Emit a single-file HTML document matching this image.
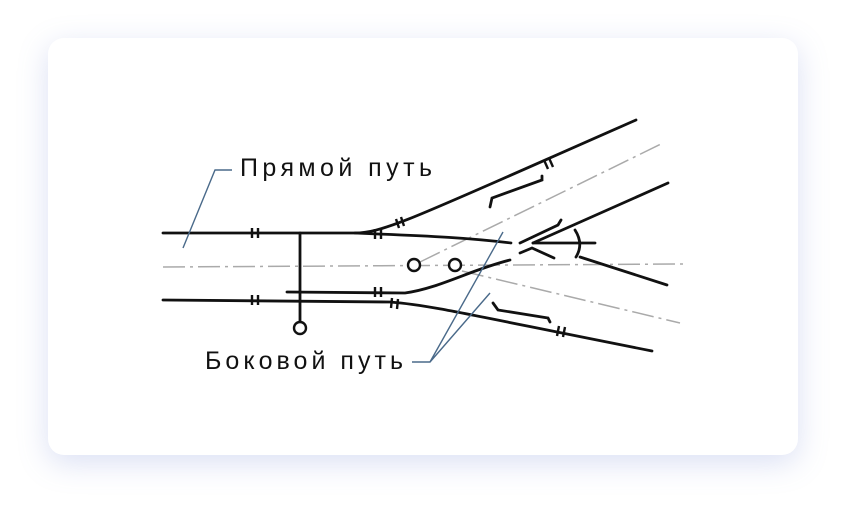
<!DOCTYPE html>
<html><head><meta charset="utf-8"><style>
html,body{margin:0;padding:0;background:#fff;}
body{width:847px;height:514px;position:relative;overflow:hidden;font-family:"Liberation Sans",sans-serif;}
.card{position:absolute;left:48px;top:38px;width:750px;height:417px;background:#fff;border-radius:16px;box-shadow:0 8px 30px rgba(110,130,210,0.25);}
svg{position:absolute;left:0;top:0;}
</style></head><body>
<div class="card"></div>
<svg width="847" height="514" viewBox="0 0 847 514">
<g stroke="#aaa" stroke-width="1.5" fill="none" stroke-dasharray="22 5 3 5">
<path d="M163 267 L683 264"/>
<path d="M420 262 L663 143"/>
<path d="M462 271 L680 323"/>
</g>
<g stroke="#111" stroke-width="2.8" fill="none" stroke-linecap="round">
<path d="M163 233 L355 233 C385 233 420 215 636 120"/>
<path d="M355 233 L378 234 C430 236 470 238 511 243"/>
<path d="M163 300 L390 302 C430 305 470 315 652 351"/>
<path d="M287 292 L405 293 C440 288 470 270 510 260"/>
<path d="M533 243 L668 183"/>
<path d="M533 243 L595 243"/>
<path d="M580 257 L667 285"/>
<path d="M520 243 L558 225 L561 220"/>
<path d="M520 253 L532 248 L554 258"/>
<path d="M575 230 Q584 244 576 257"/>
<path d="M300 233 L300 322"/>
<path d="M542 176 L542 180 L492 198 L490 207"/>
<path d="M493 303 L498 310 L548 318 L550 322"/>
</g>
<g stroke="#111" stroke-width="2.4" fill="#fff">
<circle cx="300" cy="328" r="6"/>
<circle cx="414" cy="265" r="6"/>
<circle cx="455" cy="265" r="6"/>
</g>
<g stroke="#111" stroke-width="2.4">
<path d="M252 228v10M258 228v10M252 295v10M258 295v10M375 229v10M381 229v10M375 287v10M381 287v10"/>
<path d="M396 219l3 9M401 217l3 9M544 160l4 9M549 158l4 9M392 298l-1 10M398 299l-1 10M559 326l-2 10M565 327l-2 10"/>
</g>
<g stroke="#4a6a8a" stroke-width="1.4" fill="none">
<path d="M183 248 L215 170 L232 170"/>
<path d="M412 362 L430 362 L503 232 M430 362 L490 293"/>
</g>
<text x="240" y="176" font-size="25" fill="#111" textLength="192" lengthAdjust="spacing">Прямой путь</text>
<text x="205" y="369" font-size="25" fill="#111" textLength="198" lengthAdjust="spacing">Боковой путь</text>
</svg>
</body></html>
